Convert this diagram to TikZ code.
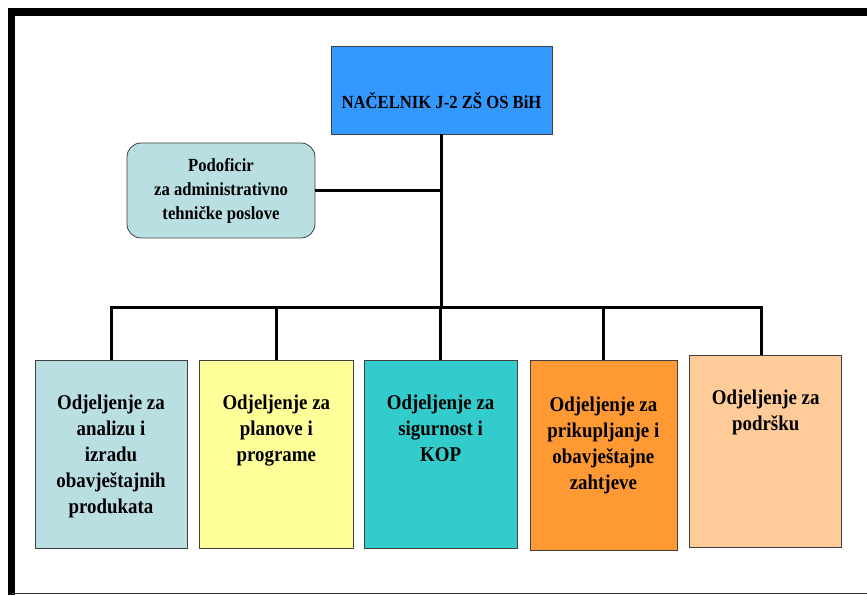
\documentclass[tikz,border=0pt]{standalone}
\usepackage{fontspec}
\setmainfont{Liberation Serif}[FakeStretch=0.9]
\usepackage{xcolor}
\usepackage{tikz}
\usetikzlibrary{positioning, calc}
\definecolor{ChiefBlue}{RGB}{51,153,255}
\definecolor{PaleTeal}{RGB}{185,223,227}
\definecolor{PaleYellow}{RGB}{255,255,153}
\definecolor{Turquoise}{RGB}{51,204,204}
\definecolor{DeepOrange}{RGB}{255,153,51}
\definecolor{Peach}{RGB}{255,204,153}
\newcommand{\depttext}[1]{\parbox[c][180pt][t]{146pt}{\centering\vspace*{31pt}#1}}
\tikzset{
    chiefbox/.style={rectangle, minimum width=221pt, minimum height=88pt, inner ysep=0pt,
        text height=63pt, text depth=25pt, draw=black!75, line width=0.8pt, fill=ChiefBlue,
        font=\fontsize{18.5}{22}\selectfont\bfseries},
    staffbox/.style={rectangle, rounded corners=14pt, minimum width=188pt, minimum height=95pt,
        align=center, draw=black!75, line width=0.8pt, fill=PaleTeal,
        font=\fontsize{18.5}{24}\selectfont\bfseries},
    deptbox/.style={rectangle, minimum width=152pt, minimum height=188pt, inner sep=0pt,
        draw=black!75, line width=0.8pt, font=\fontsize{21}{26}\selectfont\bfseries},
    orgline/.style={line width=3pt, black},
    framebar/.style={line width=7.5pt, black},
}

\begin{document}
\begin{tikzpicture}[x=1pt, y=1pt]
    \useasboundingbox (0,0) rectangle (867,595);
    % outer frame
    \draw[framebar] (11.5,0) |- (867,583);
    \draw[line width=1pt, black!80] (11.5,1.7) -- (867,1.7);

    \node[chiefbox] (chief) at (441.5,505) {NAČELNIK J-2 ZŠ OS BiH};
    \node[staffbox] (admin) at (221,404.5) {Podoficir\\za administrativno\\tehničke poslove};
    \coordinate (bus) at (443,287);

    % departments, left to right
    \node[deptbox, fill=PaleTeal] (d1) at (111,141)
        {\depttext{Odjeljenje za\\analizu i\\izradu\\obavještajnih\\produkata}};
    \node[deptbox, fill=PaleYellow, minimum width=154pt, right=11.5pt of d1] (d2)
        {\depttext{Odjeljenje za\\planove i\\programe}};
    \node[deptbox, fill=Turquoise, minimum width=153pt, right=10pt of d2] (d3)
        {\depttext{Odjeljenje za\\sigurnost i\\KOP}};
    \node[deptbox, fill=DeepOrange, minimum width=147pt, minimum height=190pt,
        right=12pt of d3, yshift=-1.5pt] (d4)
        {\depttext{Odjeljenje za\\prikupljanje i\\obavještajne\\zahtjeve}};
    \node[deptbox, fill=Peach, minimum height=192pt, right=12pt of d4, yshift=4pt] (d5)
        {\depttext{\vspace*{-3pt}Odjeljenje za\\podršku}};

    \draw[orgline] (chief) -- (chief |- bus);
    \draw[orgline] (admin) -- (admin -| chief);
    \draw[orgline, line cap=rect] (d1 |- bus) -- ([xshift=-4pt]d5.north |- bus);
    \foreach \dept in {d1,d2,d3,d4}
        \draw[orgline] (\dept) -- (\dept |- bus);
    \draw[orgline] ([xshift=-4pt]d5.north) -- ([xshift=-4pt]d5.north |- bus);
\end{tikzpicture}
\end{document}
